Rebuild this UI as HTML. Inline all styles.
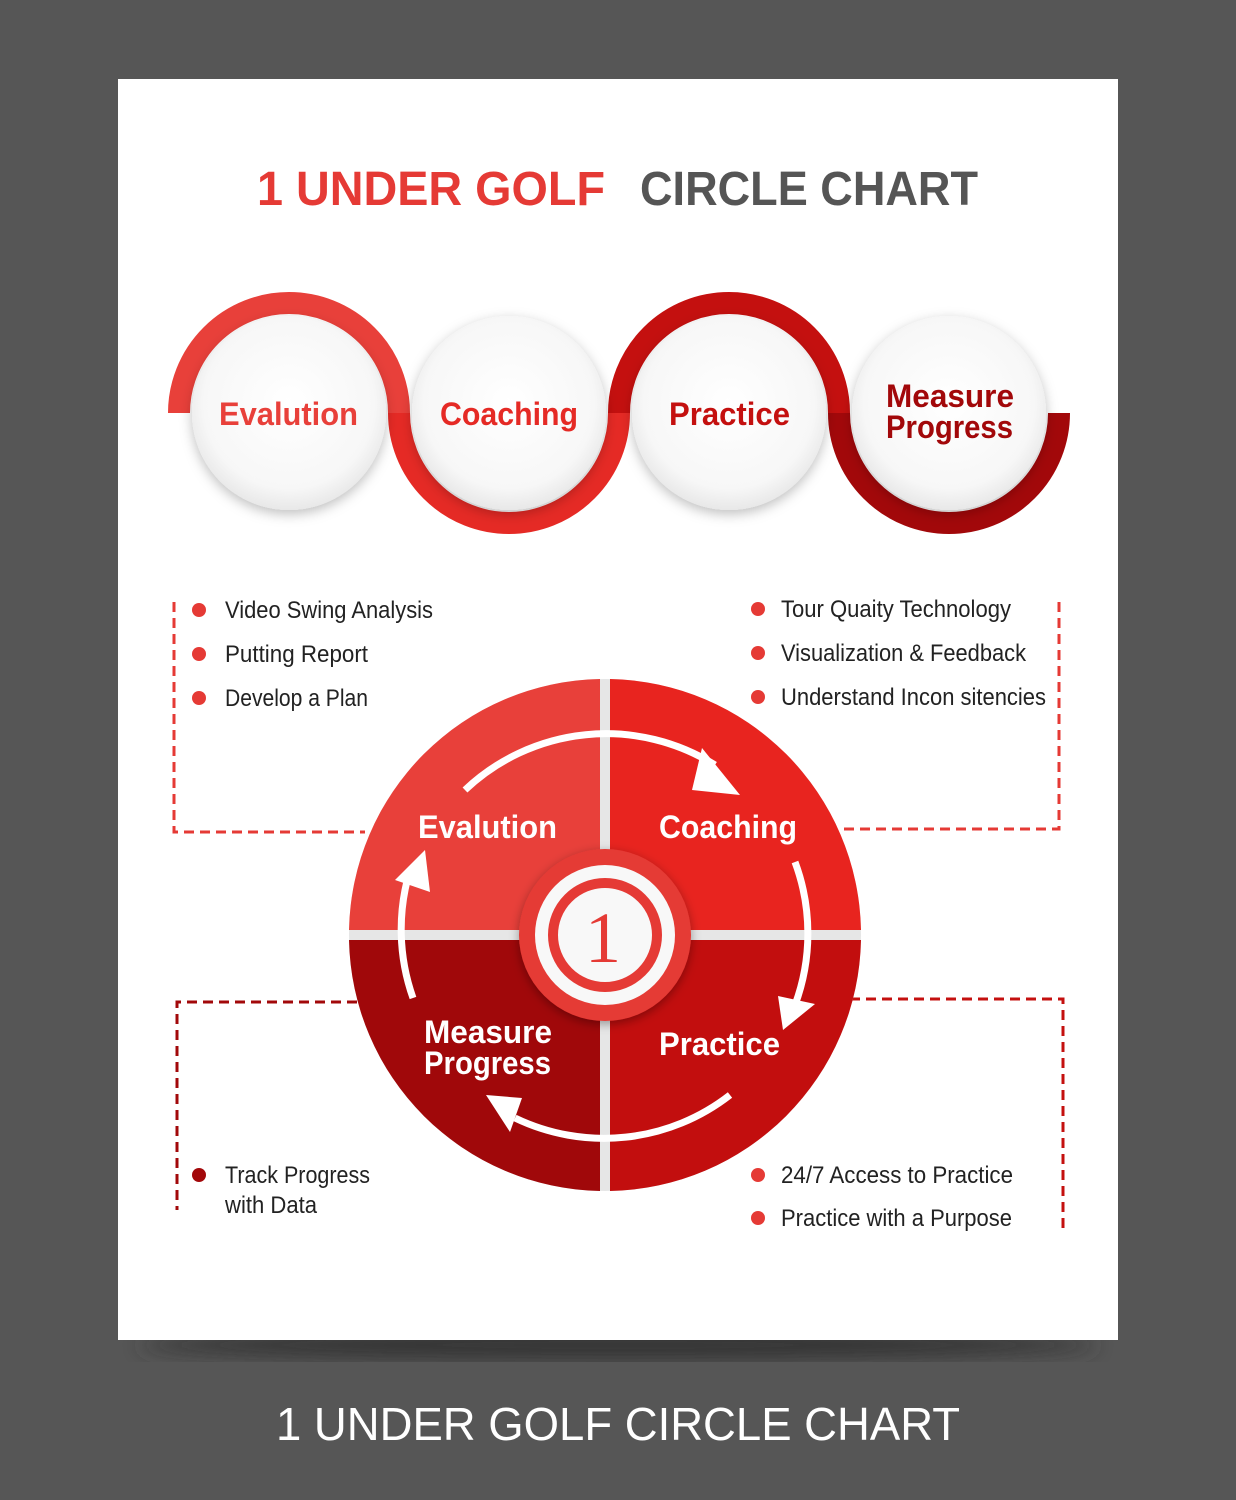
<!DOCTYPE html>
<html><head><meta charset="utf-8"><style>
html,body{margin:0;padding:0;background:#565656;}
body{width:1236px;height:1500px;position:relative;overflow:hidden;font-family:"Liberation Sans",sans-serif;}
</style></head><body>
<svg width="1236" height="1500" viewBox="0 0 1236 1500" xmlns="http://www.w3.org/2000/svg" style="position:absolute;left:0;top:0">
<defs>
<filter id="sh" x="-30%" y="-30%" width="160%" height="160%"><feDropShadow dx="0" dy="4" stdDeviation="6" flood-color="#000" flood-opacity="0.25"/></filter>
<filter id="sh2" x="-30%" y="-30%" width="160%" height="160%"><feDropShadow dx="0" dy="3" stdDeviation="5" flood-color="#000" flood-opacity="0.35"/></filter>
<radialGradient id="wc" cx="50%" cy="45%" r="55%"><stop offset="0" stop-color="#ffffff"/><stop offset="0.8" stop-color="#f7f7f7"/><stop offset="1" stop-color="#e8e8e8"/></radialGradient>
<filter id="blur"><feGaussianBlur stdDeviation="10"/></filter>
</defs>
<ellipse cx="618" cy="1345" rx="480" ry="14" fill="#333" filter="url(#blur)"/>
<rect x="118" y="79" width="1000" height="1261" fill="#fff"/>
<g lengthAdjust="spacingAndGlyphs">
<text x="257" y="205" font-size="48" font-weight="bold" fill="#e53a35" textLength="348" lengthAdjust="spacingAndGlyphs">1 UNDER GOLF</text>
<text x="640" y="205" font-size="48" font-weight="bold" fill="#555" textLength="338" lengthAdjust="spacingAndGlyphs">CIRCLE CHART</text>
</g>

<g fill="none" stroke-width="22">
<path d="M179 413 A110 110 0 0 1 399 413" stroke="#e8403a"/>
<path d="M399 413 A110 110 0 0 0 619 413" stroke="#e52a25"/>
<path d="M619 413 A110 110 0 0 1 839 413" stroke="#c4100f"/>
<path d="M839 413 A110 110 0 0 0 1059 413" stroke="#a2080a"/>
</g>
<g filter="url(#sh)" fill="url(#wc)">
<circle cx="289" cy="413" r="97"/><circle cx="509" cy="413" r="97"/><circle cx="729" cy="413" r="97"/><circle cx="949" cy="413" r="97"/>
</g>
<g font-size="32" font-weight="bold">
<text x="219" y="425" fill="#e8403a" textLength="139" lengthAdjust="spacingAndGlyphs">Evalution</text>
<text x="440" y="425" fill="#e52a25" textLength="138" lengthAdjust="spacingAndGlyphs">Coaching</text>
<text x="669" y="425" fill="#c4100f" textLength="121" lengthAdjust="spacingAndGlyphs">Practice</text>
<text x="886" y="407" fill="#a2080a" textLength="128" lengthAdjust="spacingAndGlyphs">Measure</text>
<text x="886" y="438" fill="#a2080a" textLength="127" lengthAdjust="spacingAndGlyphs">Progress</text>
</g>

<g fill="none" stroke-width="3" stroke-dasharray="10 6">
<path d="M174 602 V832 H365" stroke="#e53a35"/>
<path d="M1059 602 V829 H840" stroke="#e53a35"/>
<path d="M357 1002 H177 V1210" stroke="#a2080a"/>
<path d="M850 999 H1063 V1228" stroke="#c4100f"/>
</g>

<g font-size="24" fill="#222">
<circle cx="199" cy="610" r="7" fill="#e53a35"/><text x="225" y="618" textLength="208" lengthAdjust="spacingAndGlyphs">Video Swing Analysis</text>
<circle cx="199" cy="654" r="7" fill="#e53a35"/><text x="225" y="662" textLength="143" lengthAdjust="spacingAndGlyphs">Putting Report</text>
<circle cx="199" cy="698" r="7" fill="#e53a35"/><text x="225" y="706" textLength="143" lengthAdjust="spacingAndGlyphs">Develop a Plan</text>
<circle cx="758" cy="609" r="7" fill="#e53a35"/><text x="781" y="617" textLength="230" lengthAdjust="spacingAndGlyphs">Tour Quaity Technology</text>
<circle cx="758" cy="653" r="7" fill="#e53a35"/><text x="781" y="661" textLength="245" lengthAdjust="spacingAndGlyphs">Visualization &amp; Feedback</text>
<circle cx="758" cy="697" r="7" fill="#e53a35"/><text x="781" y="705" textLength="265" lengthAdjust="spacingAndGlyphs">Understand Incon sitencies</text>
<circle cx="199" cy="1175" r="7" fill="#a2080a"/><text x="225" y="1183" textLength="145" lengthAdjust="spacingAndGlyphs">Track Progress</text><text x="225" y="1213" textLength="92" lengthAdjust="spacingAndGlyphs">with Data</text>
<circle cx="758" cy="1175" r="7" fill="#e53a35"/><text x="781" y="1183" textLength="232" lengthAdjust="spacingAndGlyphs">24/7 Access to Practice</text>
<circle cx="758" cy="1218" r="7" fill="#e53a35"/><text x="781" y="1226" textLength="231" lengthAdjust="spacingAndGlyphs">Practice with a Purpose</text>
</g>

<circle cx="605" cy="935" r="256" fill="#e6e6e6"/>
<path d="M600 930 V679 A256 256 0 0 0 349 930 Z" fill="#e8403a"/>
<path d="M610 930 V679 A256 256 0 0 1 861 930 Z" fill="#e8241f"/>
<path d="M600 940 V1191 A256 256 0 0 1 349 940 Z" fill="#a0080a"/>
<path d="M610 940 V1191 A256 256 0 0 0 861 940 Z" fill="#c20e0e"/>
<g fill="none" stroke="#fff" stroke-width="7">
<path d="M465 790 A205 205 0 0 1 715 765"/>
<path d="M795 862 A205 205 0 0 1 795 1005"/>
<path d="M730 1095 A205 205 0 0 1 515 1118"/>
<path d="M413 998 A205 205 0 0 1 410 870"/>
</g>
<g fill="#fff">
<polygon points="702,748 740,795 692,790"/>
<polygon points="778,996 815,1004 783,1030"/>
<polygon points="486,1095 510,1132 522,1098"/>
<polygon points="395,880 425,850 430,892"/>
</g>
<g font-size="32" font-weight="bold" fill="#fff">
<text x="418" y="838" textLength="139" lengthAdjust="spacingAndGlyphs">Evalution</text>
<text x="659" y="838" textLength="138" lengthAdjust="spacingAndGlyphs">Coaching</text>
<text x="424" y="1043" textLength="128" lengthAdjust="spacingAndGlyphs">Measure</text>
<text x="424" y="1074" textLength="127" lengthAdjust="spacingAndGlyphs">Progress</text>
<text x="659" y="1055" textLength="121" lengthAdjust="spacingAndGlyphs">Practice</text>
</g>
<circle cx="605" cy="935" r="86" fill="#e53a35" filter="url(#sh2)"/>
<circle cx="605" cy="935" r="70" fill="#f8f8f8"/>
<circle cx="605" cy="935" r="52" fill="none" stroke="#e53a35" stroke-width="10"/>
<text x="603" y="962" font-size="72" font-family="'Liberation Serif',serif" fill="#e53a35" text-anchor="middle">1</text>

<text x="276" y="1440" font-size="46" fill="#fff" textLength="684" lengthAdjust="spacingAndGlyphs">1 UNDER GOLF CIRCLE CHART</text>
</svg>
</body></html>
